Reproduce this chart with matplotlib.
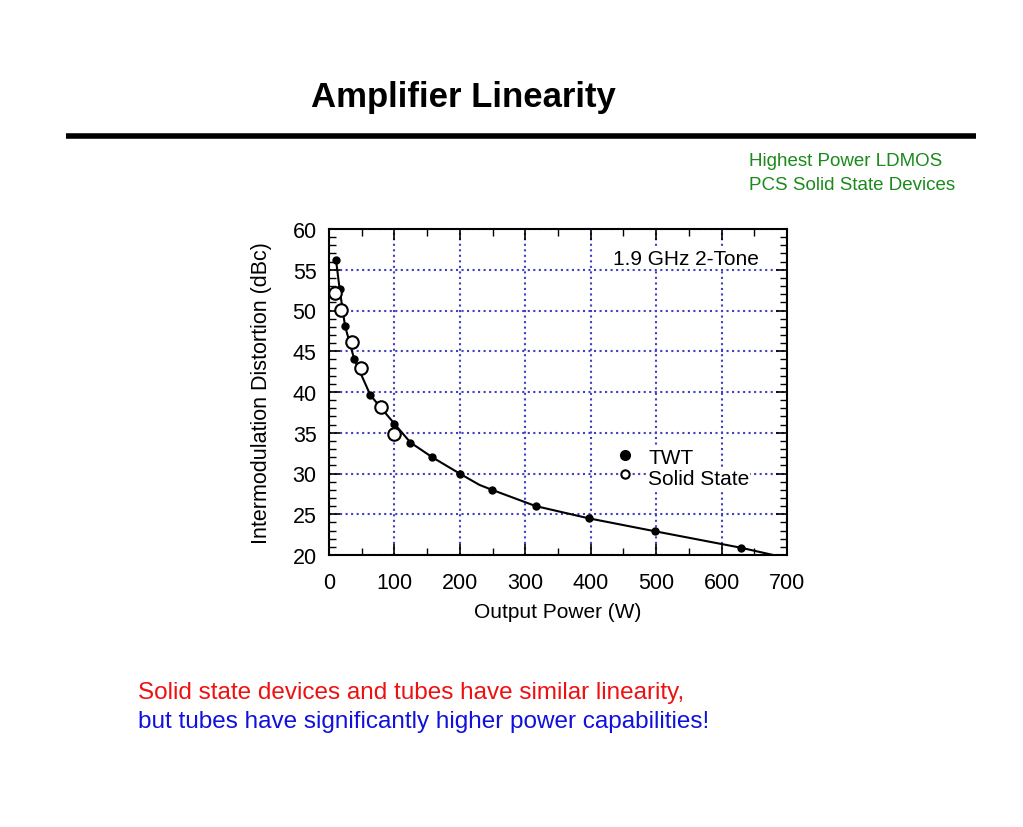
import matplotlib
matplotlib.use("Agg")
import matplotlib.pyplot as plt
from matplotlib.ticker import MultipleLocator

plt.rcParams['font.family'] = ['Liberation Sans', 'DejaVu Sans']

# TWT measurements (filled dots)
twt_power = [10.7, 16.3, 24.5, 38.3, 63.3, 100, 124.5, 157.7, 199.5, 249, 316, 397, 499, 629]
twt_imd = [56.2, 52.6, 48.1, 44.1, 39.6, 36.1, 33.8, 32.0, 30.0, 28.0, 26.0, 24.5, 22.9, 20.9]

# solid state measurements (open circles)
ss_power = [9.7, 18.4, 35.7, 49, 80, 99.5]
ss_imd = [52.1, 50.1, 46.1, 43.0, 38.1, 34.9]

# trend line drawn through the TWT points
curve_power = [10.7, 16.3, 24.5, 38.3, 63.3, 100, 124.5, 157.7, 199.5, 230, 249, 316, 397, 499, 629, 690]
curve_imd = [56.2, 52.6, 48.1, 44.1, 39.6, 36.1, 33.8, 32.0, 30.0, 28.6, 28.0, 26.0, 24.5, 22.9, 20.9, 19.8]

x_ticks = [0, 100, 200, 300, 400, 500, 600, 700]
y_ticks = [20, 25, 30, 35, 40, 45, 50, 55, 60]

fig = plt.figure(figsize=(10.23, 8.28), dpi=100)

# title and rule
fig.text(0.453, 1 - 97 / 828, "Amplifier Linearity", fontsize=25, fontweight='bold',
         ha='center', va='center')
fig.add_artist(plt.Line2D([66 / 1023, 976 / 1023], [1 - 137 / 828, 1 - 137 / 828],
                          color='black', linewidth=4, solid_capstyle='butt'))

fig.text(749 / 1023, 1 - 161 / 828, "Highest Power LDMOS", color='#1a8a1a',
         fontsize=13.5, ha='left', va='center')
fig.text(749 / 1023, 1 - 185 / 828, "PCS Solid State Devices", color='#1a8a1a',
         fontsize=13.5, ha='left', va='center')

ax = fig.add_axes([329 / 1023, 1 - 556 / 828, 458 / 1023, 326 / 828])

ax.plot(curve_power, curve_imd, color='black', linewidth=1.5, zorder=3)
ax.plot(twt_power, twt_imd, 'o', color='black', markersize=5, zorder=4)
ax.plot(ss_power, ss_imd, 'o', markerfacecolor='white', markeredgecolor='black',
        markeredgewidth=1.5, markersize=9, zorder=4)

ax.set_xlim(0, 700)
ax.set_ylim(20, 60)
ax.set_xticks(x_ticks)
ax.set_yticks(y_ticks)
ax.xaxis.set_minor_locator(MultipleLocator(50))
ax.yaxis.set_minor_locator(MultipleLocator(1))
ax.tick_params(which='both', direction='in', top=True, right=True, labelsize=15.5)
ax.tick_params(which='major', length=8, width=1.2)
ax.tick_params(which='minor', length=5, width=1)
ax.tick_params(axis='x', pad=12)
ax.tick_params(axis='y', pad=9)
ax.grid(True, color='#4040c0', linestyle=':', linewidth=1.5)
for s in ax.spines.values():
    s.set_linewidth(1.5)

ax.set_xlabel("Output Power (W)", fontsize=15, labelpad=7)
ax.set_ylabel("Intermodulation Distortion (dBc)", fontsize=15.5, labelpad=15)

ax.text(434, 56.4, "1.9 GHz 2-Tone", fontsize=15, ha='left', va='center',
        bbox=dict(facecolor='white', edgecolor='none', pad=1))

# legend written by hand like the original
ax.plot([452], [32.3], 'o', color='black', markersize=7, zorder=5)
ax.plot([453], [29.9], 'o', markerfacecolor='white', markeredgecolor='black',
        markeredgewidth=1.5, markersize=6, zorder=5)
ax.text(488, 32.0, "TWT", fontsize=15, ha='left', va='center',
        bbox=dict(facecolor='white', edgecolor='none', pad=0.5))
ax.text(488, 29.4, "Solid State", fontsize=15, ha='left', va='center',
        bbox=dict(facecolor='white', edgecolor='none', pad=0.5))

fig.text(138 / 1023, 1 - 693 / 828, "Solid state devices and tubes have similar linearity,",
         color='#ee1111', fontsize=17.5, ha='left', va='center')
fig.text(138 / 1023, 1 - 722 / 828, "but tubes have significantly higher power capabilities!",
         color='#1111dd', fontsize=17.5, ha='left', va='center')

fig.savefig("out.png", dpi=100)
